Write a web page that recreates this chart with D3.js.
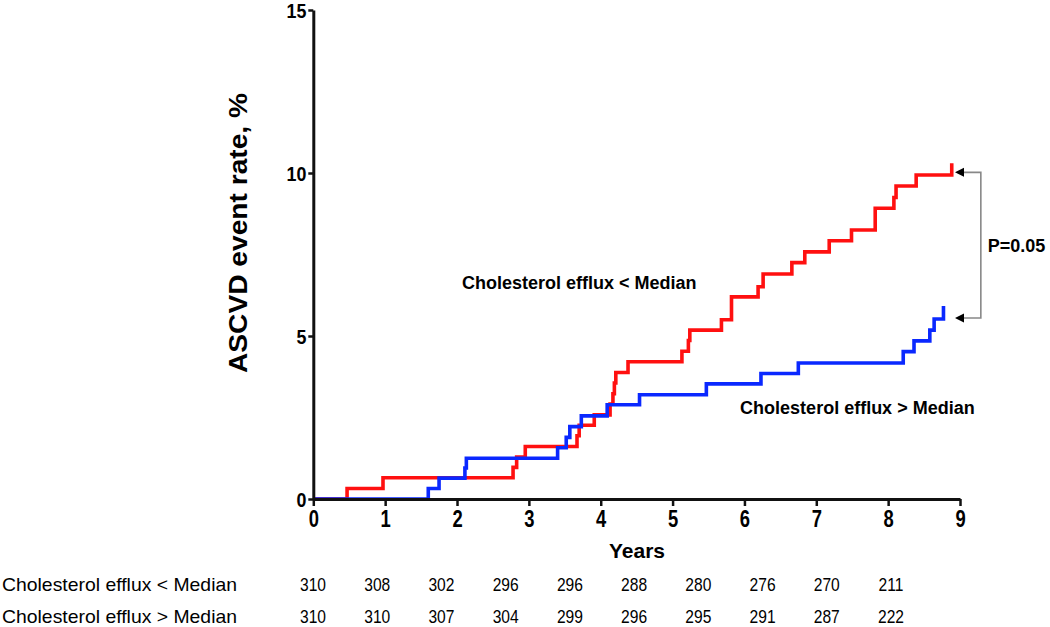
<!DOCTYPE html>
<html><head><meta charset="utf-8">
<script src="https://cdn.jsdelivr.net/npm/d3@7"></script>
<style>body{margin:0;background:#fff}svg{display:block}</style>
</head><body>
<svg id="chart" width="1050" height="627"></svg>
<script>
// ---------- data ----------
const xTickValues = [0, 1, 2, 3, 4, 5, 6, 7, 8, 9];
const yTickValues = [0, 5, 10, 15];

// Cholesterol efflux < Median (red): step times (years) and cumulative event rate (%)
const lowTimes = [0, 0.47, 0.97, 2.78, 2.83, 2.95, 3.67, 3.70, 3.91, 4.13, 4.17, 4.19, 4.21, 4.38,
  5.13, 5.22, 5.24, 5.68, 5.82, 6.19, 6.26, 6.66, 6.84, 7.18, 7.49, 7.82, 8.08, 8.11, 8.39, 8.885];
const lowRates = [0, 0.32, 0.65, 0.97, 1.29, 1.61, 1.94, 2.26, 2.58, 2.91, 3.23, 3.56, 3.88, 4.21,
  4.53, 4.86, 5.18, 5.50, 6.20, 6.51, 6.90, 7.25, 7.58, 7.92, 8.25, 8.92, 9.25, 9.60, 9.94, 10.30];

// Cholesterol efflux > Median (blue)
const highTimes = [0, 1.60, 1.75, 2.11, 2.13, 3.40, 3.52, 3.57, 3.73, 4.09, 4.54, 5.47, 6.23, 6.75,
  8.21, 8.36, 8.58, 8.64, 8.77];
const highRates = [0, 0.32, 0.64, 0.95, 1.25, 1.57, 1.89, 2.22, 2.55, 2.89, 3.20, 3.53, 3.85, 4.17,
  4.52, 4.85, 5.18, 5.52, 5.92];

const groupNames = ["Cholesterol efflux < Median", "Cholesterol efflux > Median"];
const atRiskLow = [310, 308, 302, 296, 296, 288, 280, 276, 270, 211];
const atRiskHigh = [310, 310, 307, 304, 299, 296, 295, 291, 287, 222];
const pValueText = "P=0.05";
const xTitle = "Years";
const yTitle = "ASCVD event rate, %";

// ---------- layout ----------
const svg = d3.select("#chart");
const FONT = "'Liberation Sans', Arial, sans-serif";
const x = d3.scaleLinear().domain([0, 9]).range([313.3, 960]);
const y = d3.scaleLinear().domain([0, 15]).range([499, 10]);

function squeeze(sel, f) {
  sel.each(function () {
    const n = this.getComputedTextLength();
    this.setAttribute("textLength", n * f);
    this.setAttribute("lengthAdjust", "spacingAndGlyphs");
  });
}

// curves
const line = d3.line().x(d => x(d[0])).y(d => y(d[1])).curve(d3.curveStepAfter);
const series = [
  { pts: d3.zip(lowTimes, lowRates), color: "#ff1010" },
  { pts: d3.zip(highTimes, highRates), color: "#0a28ff" }
];
svg.append("g").selectAll("path").data(series).join("path")
  .attr("d", d => line(d.pts))
  .attr("fill", "none").attr("stroke", d => d.color)
  .attr("stroke-width", 3.6).attr("stroke-linejoin", "miter").attr("stroke-linecap", "butt");

// axes
const xAxis = svg.append("g").attr("transform", `translate(0,${y(0)})`)
  .call(d3.axisBottom(x).tickValues(xTickValues).tickFormat(d3.format("d")).tickSize(7).tickSizeOuter(0).tickPadding(5));
const yAxis = svg.append("g").attr("transform", `translate(${x(0)},0)`)
  .call(d3.axisLeft(y).tickValues(yTickValues).tickFormat(d3.format("d")).tickSize(5).tickSizeOuter(0).tickPadding(2));
[xAxis, yAxis].forEach(a => {
  a.select(".domain").attr("stroke", "#111").attr("stroke-width", 3);
  a.selectAll(".tick line").attr("stroke", "#111").attr("stroke-width", 2.5);
  a.selectAll("text").attr("fill", "#000").style("font-family", FONT).style("font-weight", "bold");
});
xAxis.selectAll("text").style("font-size", "23px");
yAxis.selectAll("text").style("font-size", "21px").attr("dy", "0.36em");
squeeze(xAxis.selectAll("text"), 0.8);
squeeze(yAxis.selectAll("text"), 0.85);

// axis titles
svg.append("text").attr("x", 637).attr("y", 558).attr("text-anchor", "middle")
  .style("font-family", FONT).style("font-weight", "bold").style("font-size", "21px").text(xTitle);
svg.append("text").attr("transform", "translate(247,233) rotate(-90)").attr("text-anchor", "middle")
  .style("font-family", FONT).style("font-weight", "bold").style("font-size", "26px")
  .attr("textLength", 280).attr("lengthAdjust", "spacingAndGlyphs").text(yTitle);

// series labels
svg.append("text").attr("x", x(2.07)).attr("y", y(6.65)).attr("dy", "0.36em")
  .style("font-family", FONT).style("font-weight", "bold").style("font-size", "18px").text(groupNames[0]);
svg.append("text").attr("x", x(5.94)).attr("y", y(2.81)).attr("dy", "0.36em")
  .style("font-family", FONT).style("font-weight", "bold").style("font-size", "18px").text(groupNames[1]);

// p-value bracket
const tipX = x(8.93), brX = x(9.29), yTop = y(10.02), yBot = y(5.55);
svg.append("path")
  .attr("d", `M${tipX + 6},${yTop}H${brX}V${yBot}H${tipX + 6}`)
  .attr("fill", "none").attr("stroke", "#888").attr("stroke-width", 1.6);
[yTop, yBot].forEach(yy => {
  svg.append("path").attr("d", `M${tipX},${yy}l9,-4.5v9z`).attr("fill", "#000");
});
svg.append("text").attr("x", brX + 7).attr("y", (yTop + yBot) / 2).attr("dy", "0.36em")
  .style("font-family", FONT).style("font-weight", "bold").style("font-size", "18px").text(pValueText);

// number at risk table
const col = d3.scalePoint().domain(d3.range(atRiskLow.length)).range([313, 891]);
const rows = [
  { name: groupNames[0], vals: atRiskLow, y: 584 },
  { name: groupNames[1], vals: atRiskHigh, y: 616 }
];
rows.forEach(r => {
  svg.append("text").attr("x", 2).attr("y", r.y).attr("dy", "0.36em")
    .style("font-family", FONT).style("font-size", "19px").style("font-weight", 500)
    .attr("textLength", 235).attr("lengthAdjust", "spacingAndGlyphs").text(r.name);
  const t = svg.append("g").selectAll("text").data(r.vals).join("text")
    .attr("x", (d, i) => col(i)).attr("y", r.y).attr("dy", "0.36em").attr("text-anchor", "middle")
    .style("font-family", FONT).style("font-size", "19px").text(d => d);
  squeeze(t, 0.82);
});
</script>
</body></html>
